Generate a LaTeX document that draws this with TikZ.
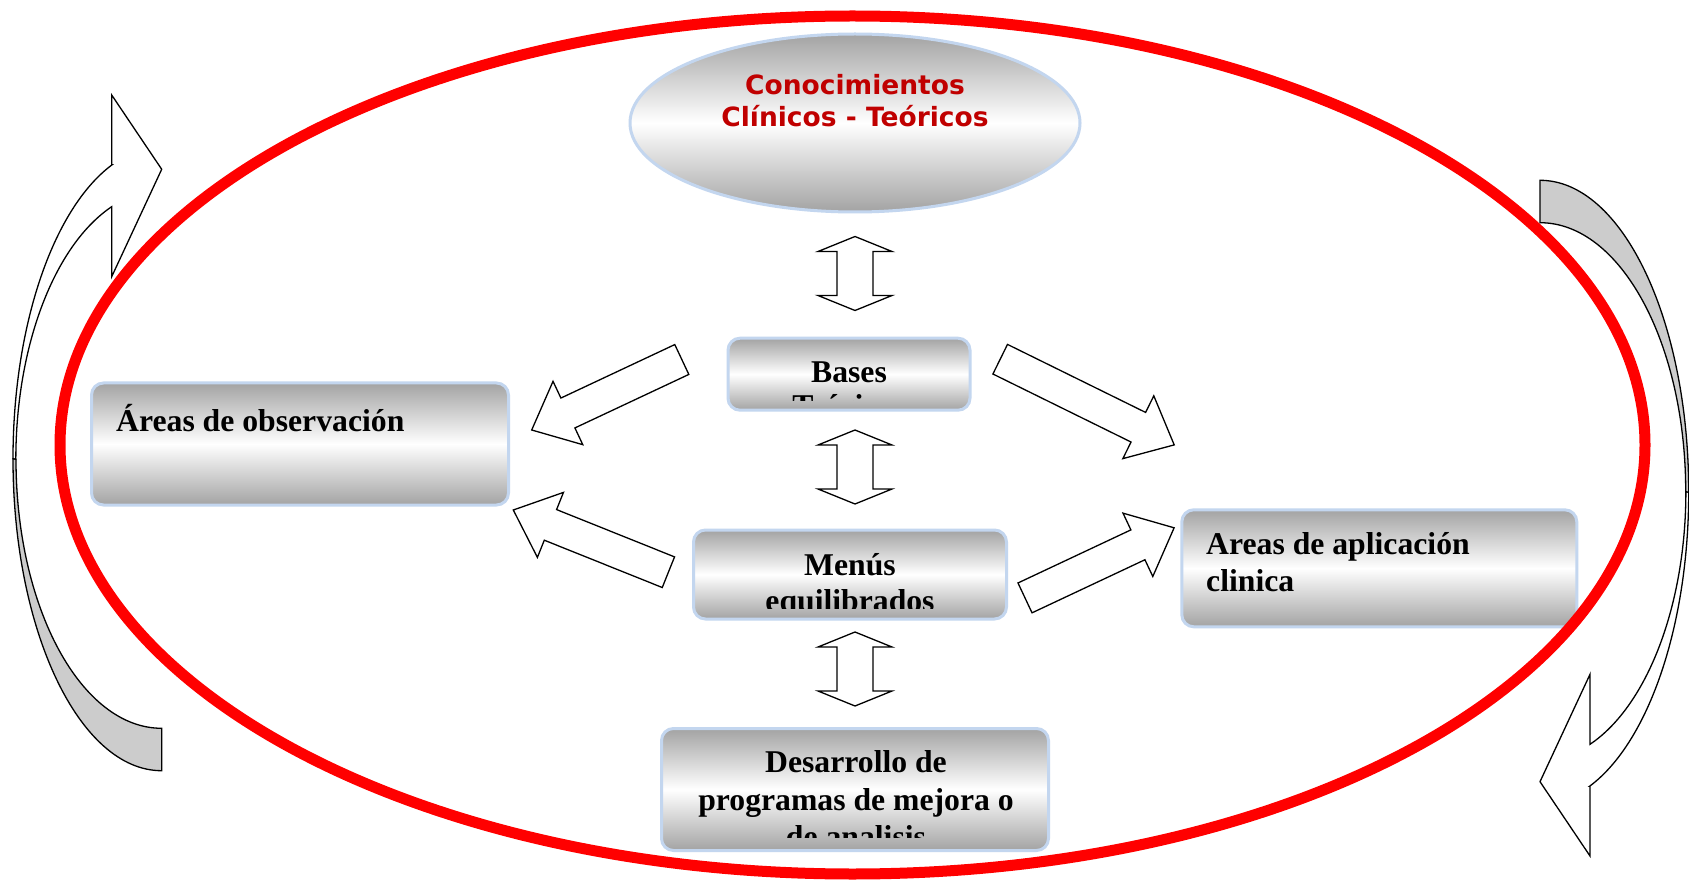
\documentclass[tikz,border=0pt]{standalone}
\usepackage{fontspec}
\setmainfont{Liberation Serif}
\newfontfamily\verdfont{DejaVu Sans}
\usetikzlibrary{calc,shapes.geometric}
\definecolor{sgray}{gray}{0.64}
\definecolor{lblue}{HTML}{C3D6EF}
\definecolor{ringred}{HTML}{FF0000}
\definecolor{darkred}{HTML}{C00000}
\definecolor{cgray}{HTML}{CCCCCC}
% block arrow from tail coordinate #1 to tip coordinate #2
\newcommand\blockarrow[2]{%
  \coordinate (#1#2hb) at ($(#2)!40pt!(#1)$);
  \filldraw[blk] ($(#1)!16.5pt!90:(#2)$) -- ($(#1#2hb)!16.5pt!-90:(#1)$)
    -- ($(#1#2hb)!35pt!-90:(#1)$) -- (#2) -- ($(#1#2hb)!35pt!90:(#1)$)
    -- ($(#1#2hb)!16.5pt!90:(#1)$) -- ($(#1)!16.5pt!-90:(#2)$) -- cycle;}
\begin{document}
\begin{tikzpicture}[x=1pt,y=-1pt,
  box/.style={rectangle, rounded corners=12pt, draw=lblue, line width=3pt,
    top color=sgray, bottom color=sgray, middle color=white, inner sep=0pt},
  lbl/.style={font=\fontsize{31.7}{37}\selectfont\bfseries, inner sep=0pt, text=black},
  clbl/.style={font=\verdfont\fontsize{26.5}{31.7}\selectfont\bfseries, inner sep=0pt, text=darkred},
  blk/.style={draw=black, fill=white, line width=1.3pt, line join=miter},
  carrow/.style={draw=black, line width=1.3pt, line join=miter},
  udarrow/.pic={\filldraw[blk] (0,-37) -- (37,-22) -- (18,-22) -- (18,22) -- (37,22)
     -- (0,37) -- (-37,22) -- (-18,22) -- (-18,-22) -- (-37,-22) -- cycle;}]
\useasboundingbox (0,0) rectangle (1689,882);
\fill[white] (0,0) rectangle (1689,882);

% curved arrows (left one; right one is the same turned half round)
\begin{scope}
  \filldraw[carrow, fill=white] (111.7,165) -- (111.7,95) -- (161.7,169.3) -- (111.7,276.7)
    -- (111.7,206.7) arc[start angle=250, end angle=180, x radius=145.7, y radius=269]
    -- (13,458.8) arc[start angle=180, end angle=250.4, x radius=148.7, y radius=311.9] -- cycle;
  \filldraw[carrow, fill=cgray] (13,458.8) arc[start angle=180, end angle=90, x radius=148.7, y radius=311.9]
    -- (161.7,728.3) arc[start angle=90, end angle=180, x radius=145.7, y radius=269] -- cycle;
\end{scope}
\begin{scope}[rotate around={180:(850.85,475.5)}]
  \filldraw[carrow, fill=white] (111.7,165) -- (111.7,95) -- (161.7,169.3) -- (111.7,276.7)
    -- (111.7,206.7) arc[start angle=250, end angle=180, x radius=145.7, y radius=269]
    -- (13,458.8) arc[start angle=180, end angle=250.4, x radius=148.7, y radius=311.9] -- cycle;
  \filldraw[carrow, fill=cgray] (13,458.8) arc[start angle=180, end angle=90, x radius=148.7, y radius=311.9]
    -- (161.7,728.3) arc[start angle=90, end angle=180, x radius=145.7, y radius=269] -- cycle;
\end{scope}

% nodes
\node[ellipse, draw=lblue, line width=3pt, top color=sgray, bottom color=sgray, middle color=white,
  minimum width=450pt, minimum height=178pt, inner sep=0pt] (conoc) at (855,123) {};
\node[box, minimum width=242pt, minimum height=72pt] (bases) at (849,374.2) {};
\node[box, minimum width=313pt, minimum height=89pt] (menus) at (850,574.5) {};
\node[box, minimum width=387pt, minimum height=122pt] (desa) at (855,789.5) {};
\node[box, minimum width=417pt, minimum height=122pt] (obs) at (300,444) {};
\node[box, minimum width=395pt, minimum height=117pt] (aplic) at (1379.3,568.3) {};

% texts
\node[clbl, anchor=base] (t1) at (855,95) {Conocimientos};
\node[clbl, anchor=base] (t2) at (855,126.7) {Clínicos - Teóricos};
\node[lbl, anchor=base] (t3) at (849,382) {Bases};
\begin{scope}
  \clip (730,341) rectangle (968,400);
  \node[lbl, anchor=base] (t4) at (849,417) {Teóricos};
\end{scope}
\node[lbl, anchor=base] (t5) at (850,575) {Menús};
\begin{scope}
  \clip (696,533) rectangle (1004,608);
  \node[lbl, anchor=base] (t6) at (850,611) {equilibrados};
\end{scope}
\node[lbl, anchor=base] (t7) at (856,772.7) {Desarrollo de};
\node[lbl, anchor=base] (t8) at (856,810) {programas de mejora o};
\begin{scope}
  \clip (664,731) rectangle (1046,837);
  \node[lbl, anchor=base] (t9) at (856,847.3) {de analisis};
\end{scope}
\node[lbl, anchor=base west] (t10) at (116,431) {Áreas de observación};
\node[lbl, anchor=base west] (t11) at (1206,554) {Areas de aplicación};
\node[lbl, anchor=base west] (t12) at (1206,591) {clinica};

% double block arrows
\coordinate (a1) at (855,273.5);
\coordinate (a2) at (855,467);
\coordinate (a3) at (855,669);
\pic at (a1) {udarrow};
\pic at (a2) {udarrow};
\pic at (a3) {udarrow};

% single block arrows
\coordinate (d1t) at (681.8,359.5);  \coordinate (d1h) at (531.7,430);
\coordinate (d2t) at (668.4,572.2);  \coordinate (d2h) at (513.3,510);
\coordinate (d3t) at (1000.2,359.2); \coordinate (d3h) at (1174.2,444.9);
\coordinate (d4t) at (1025,597.9);   \coordinate (d4h) at (1174.1,527.8);
\blockarrow{d1t}{d1h}
\blockarrow{d2t}{d2h}
\blockarrow{d3t}{d3h}
\blockarrow{d4t}{d4h}

% red ring
\draw[ringred, line width=11pt] (852.5,445) ellipse [x radius=792.5, y radius=429];
\end{tikzpicture}
\end{document}
